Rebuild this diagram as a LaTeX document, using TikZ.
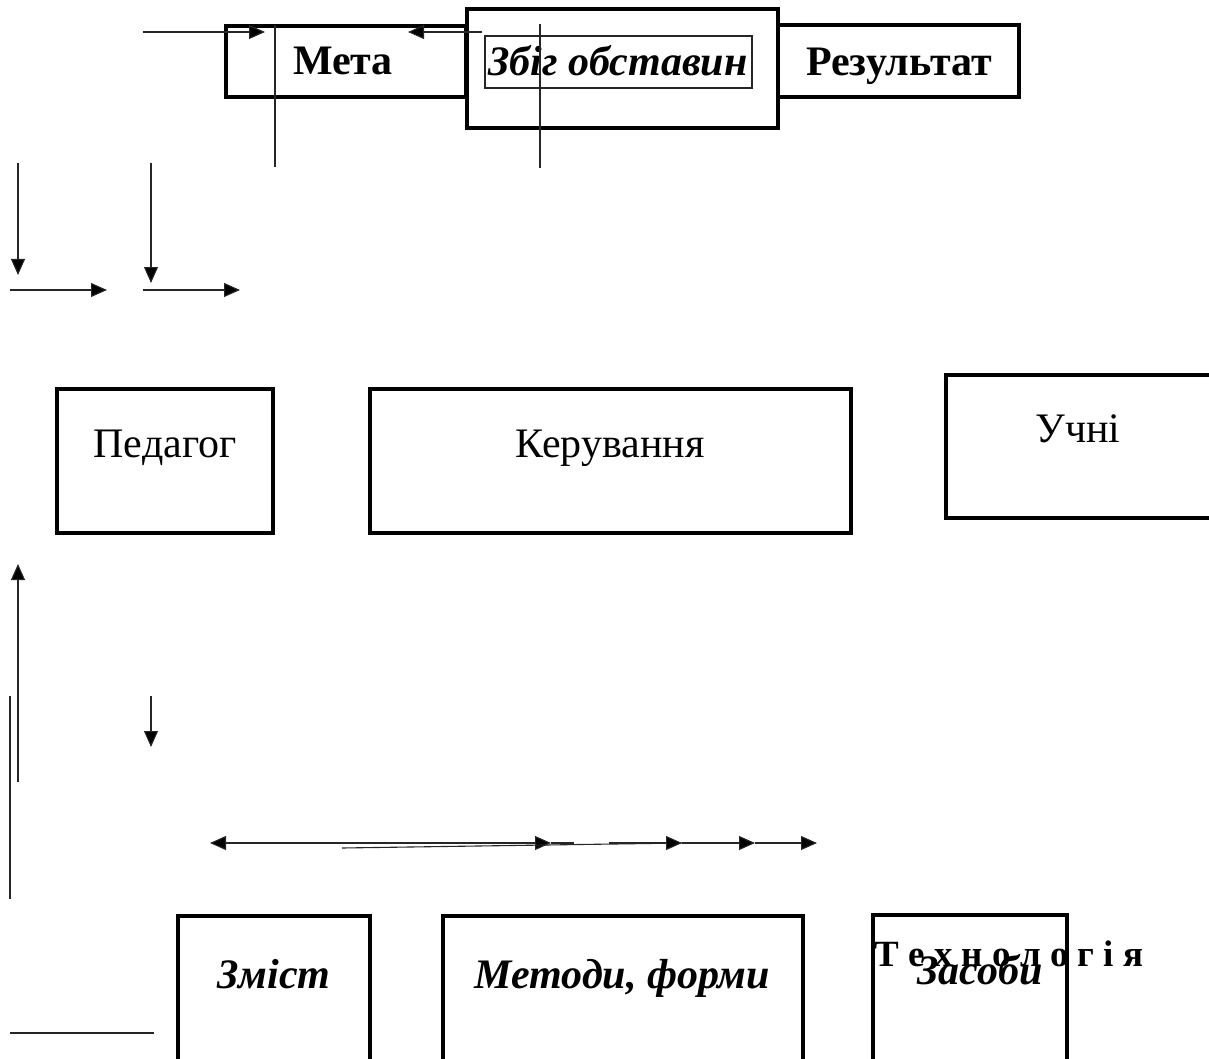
\documentclass[tikz,border=0pt]{standalone}
\usepackage{fontspec}
\setmainfont{Liberation Serif}
\usetikzlibrary{arrows.meta}

\begin{document}
\begin{tikzpicture}[x=1pt, y=-1pt,
  box/.style={draw=black, line width=3.5pt},
  wire/.style={draw=black!85, line width=1.1pt},
  tip/.style={-{Triangle[length=16pt, width=14pt, fill=black]}},
  lbl/.style={anchor=base, inner sep=0pt, font=\fontsize{42}{48}\selectfont}]

\useasboundingbox (0,0) rectangle (1209,1059);
\clip (0,0) rectangle (1209,1059);

%% ------------------------------------------------------------------
%% top row: goal, circumstances, result
%% ------------------------------------------------------------------
\draw[box] (226,26) rectangle (466,97);
\draw[box] (467,9) rectangle (778,128);
\draw[wire] (485,36) rectangle (752,88);
\draw[box] (778,25) rectangle (1019,97);

\node[lbl, font=\fontsize{42}{48}\selectfont\bfseries] (meta) at (343,75) {Мета};
\node[lbl, font=\fontsize{42}{48}\selectfont\bfseries\itshape] (zbig) at (618,76) {Збіг обставин};
\node[lbl, font=\fontsize{42}{48}\selectfont\bfseries] (rezult) at (899,76) {Результат};

% loose lines over the top row
\draw[wire, tip] (143,32) -- (265,32);
\draw[wire, tip] (482,32) -- (408,32);
\draw[wire] (275,25) -- (275,167);
\draw[wire] (540,24) -- (540,168);

% arrows down and across
\draw[wire, tip] (18,163) -- (18,275);
\draw[wire, tip] (151,163) -- (151,283);
\draw[wire, tip] (10,290) -- (107,290);
\draw[wire, tip] (143,290) -- (240,290);

%% ------------------------------------------------------------------
%% middle row: teacher, management, pupils
%% ------------------------------------------------------------------
\draw[box] (57,389) rectangle (273,533);
\draw[box] (370,389) rectangle (851,533);
\draw[box] (946,375) rectangle (1225,518);

\node[lbl] (pedagog) at (165,457) {Педагог};
\node[lbl] (keruv) at (610,457) {Керування};
\node[lbl] (uchni) at (1078,442) {Учні};

% left side lines
\draw[wire, tip] (18,782) -- (18,564);
\draw[wire] (10,696) -- (10,899);
\draw[wire, tip] (151,696) -- (151,747);
\draw[wire] (10,1033) -- (154,1033);

% arrows above the bottom row
\draw[wire, {Triangle[length=16pt, width=14pt, fill=black]}-{Triangle[length=16pt, width=14pt, fill=black]}] (210,843) -- (551,843);
\draw[wire] (551,843) -- (574,843);
\draw[wire] (342,848) -- (682,843);
\foreach \a/\b in {609/682, 682/755, 755/817}{
  \draw[wire, tip] (\a,843) -- (\b,843);
}

%% ------------------------------------------------------------------
%% bottom row: content, methods, means
%% ------------------------------------------------------------------
\draw[box] (178,1080) -- (178,916) -- (370,916) -- (370,1080);
\draw[box] (443,1080) -- (443,916) -- (803,916) -- (803,1080);
\draw[box] (873,1080) -- (873,915) -- (1067,915) -- (1067,1080);

\node[lbl, font=\fontsize{42}{48}\selectfont\bfseries\itshape] (zmist) at (274,988) {Зміст};
\node[lbl, font=\fontsize{42}{48}\selectfont\bfseries\itshape] (metody) at (622,988) {Методи, форми};
\node[lbl, font=\fontsize{42}{48}\selectfont\bfseries\itshape] (zasoby) at (980,984) {Засоби};
\node[lbl, font=\fontsize{37}{40}\selectfont\bfseries] (tekhn) at (1009,966) {Т е х н о л о г і я};

\end{tikzpicture}
\end{document}
